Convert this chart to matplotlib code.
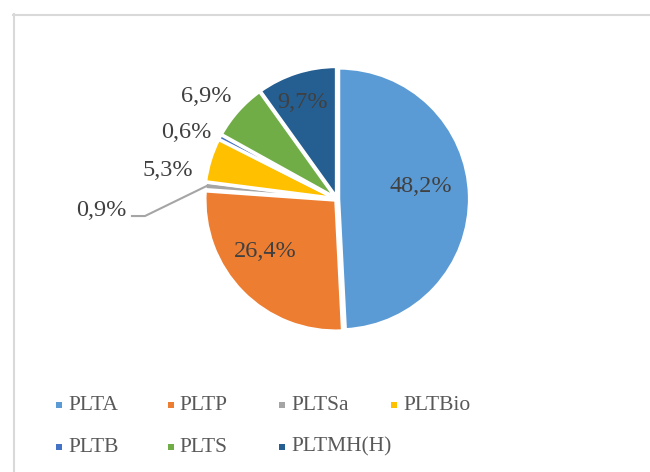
import numpy as np
import matplotlib
matplotlib.use("Agg")
import matplotlib.pyplot as plt
from matplotlib.patches import Rectangle
from matplotlib.lines import Line2D

plt.rcParams["font.family"] = ["Liberation Serif", "DejaVu Serif"]

# data
names = ["PLTA", "PLTP", "PLTSa", "PLTBio", "PLTB", "PLTS", "PLTMH(H)"]
shares = [48.2, 26.4, 0.9, 5.3, 0.6, 6.9, 9.7]
colors = ["#5B9BD5", "#ED7D31", "#A5A5A5", "#FFC000", "#4472C4", "#70AD47", "#255E91"]

# label placement: (radius, angle shift in deg, inside?)
label_r = [0.65, 0.68, 1.61, 1.12, 1.08, 1.12, 0.78]
label_shift = [7, -8, 8.7, 5.8, 0, -2.4, 2]
label_inside = [True, True, False, False, False, False, True]

W, H = 650, 472
cx, cy, R = 337, 199, 131
TXT = "#404040"

fig = plt.figure(figsize=(W / 100, H / 100), dpi=100)

# chart area border (top + left visible)
fig.add_artist(Line2D([13.5 / W, 13.5 / W], [0, 1 - 14 / H], transform=fig.transFigure,
                      color="#D9D9D9", lw=1.5))
fig.add_artist(Line2D([13 / W, 1], [1 - 14.5 / H, 1 - 14.5 / H], transform=fig.transFigure,
                      color="#D9D9D9", lw=1.5))

ax = fig.add_axes([(cx - R) / W, (H - cy - R) / H, 2 * R / W, 2 * R / H])
wedges, _ = ax.pie(shares, colors=colors, startangle=90, counterclock=False,
                   explode=[0.012] * len(shares),
                   wedgeprops=dict(edgecolor="white", linewidth=2.4))
ax.set_xlim(-1, 1)
ax.set_ylim(-1, 1)
ax.set_aspect("auto")
ax.axis("off")

for i, w in enumerate(wedges):
    mid = (w.theta1 + w.theta2) / 2
    a = np.deg2rad(mid + label_shift[i])
    x, y = label_r[i] * np.cos(a), label_r[i] * np.sin(a)
    txt = f"{shares[i]:.1f}%".replace(".", ",")
    ha = "center" if label_inside[i] else "right"
    ax.text(x, y, txt, ha=ha, va="center", fontsize=17.5, color=TXT, clip_on=False)
    if names[i] == "PLTSa":
        am = np.deg2rad(mid)
        x0, y0 = np.cos(am) * 1.0, np.sin(am) * 1.0
        ax.plot([x0, -1.466, -1.565], [y0, -0.13, -0.13], color="#A5A5A5", lw=1.5,
                clip_on=False)

# legend, drawn as a grid like the reference
leg_x0, leg_dx = 56, 111.7
leg_y = [405, 447]
for i, (n, c) in enumerate(zip(names, colors)):
    row, col = divmod(i, 4)
    x = leg_x0 + col * leg_dx
    y = leg_y[row]
    fig.add_artist(Rectangle((x / W, 1 - (y + 3) / H), 6 / W, 6 / H,
                             transform=fig.transFigure, color=c, lw=0))
    fig.text((x + 12) / W, 1 - y / H, n, ha="left", va="center", fontsize=15.5,
             color="#595959")

fig.savefig("out.png", dpi=100)
